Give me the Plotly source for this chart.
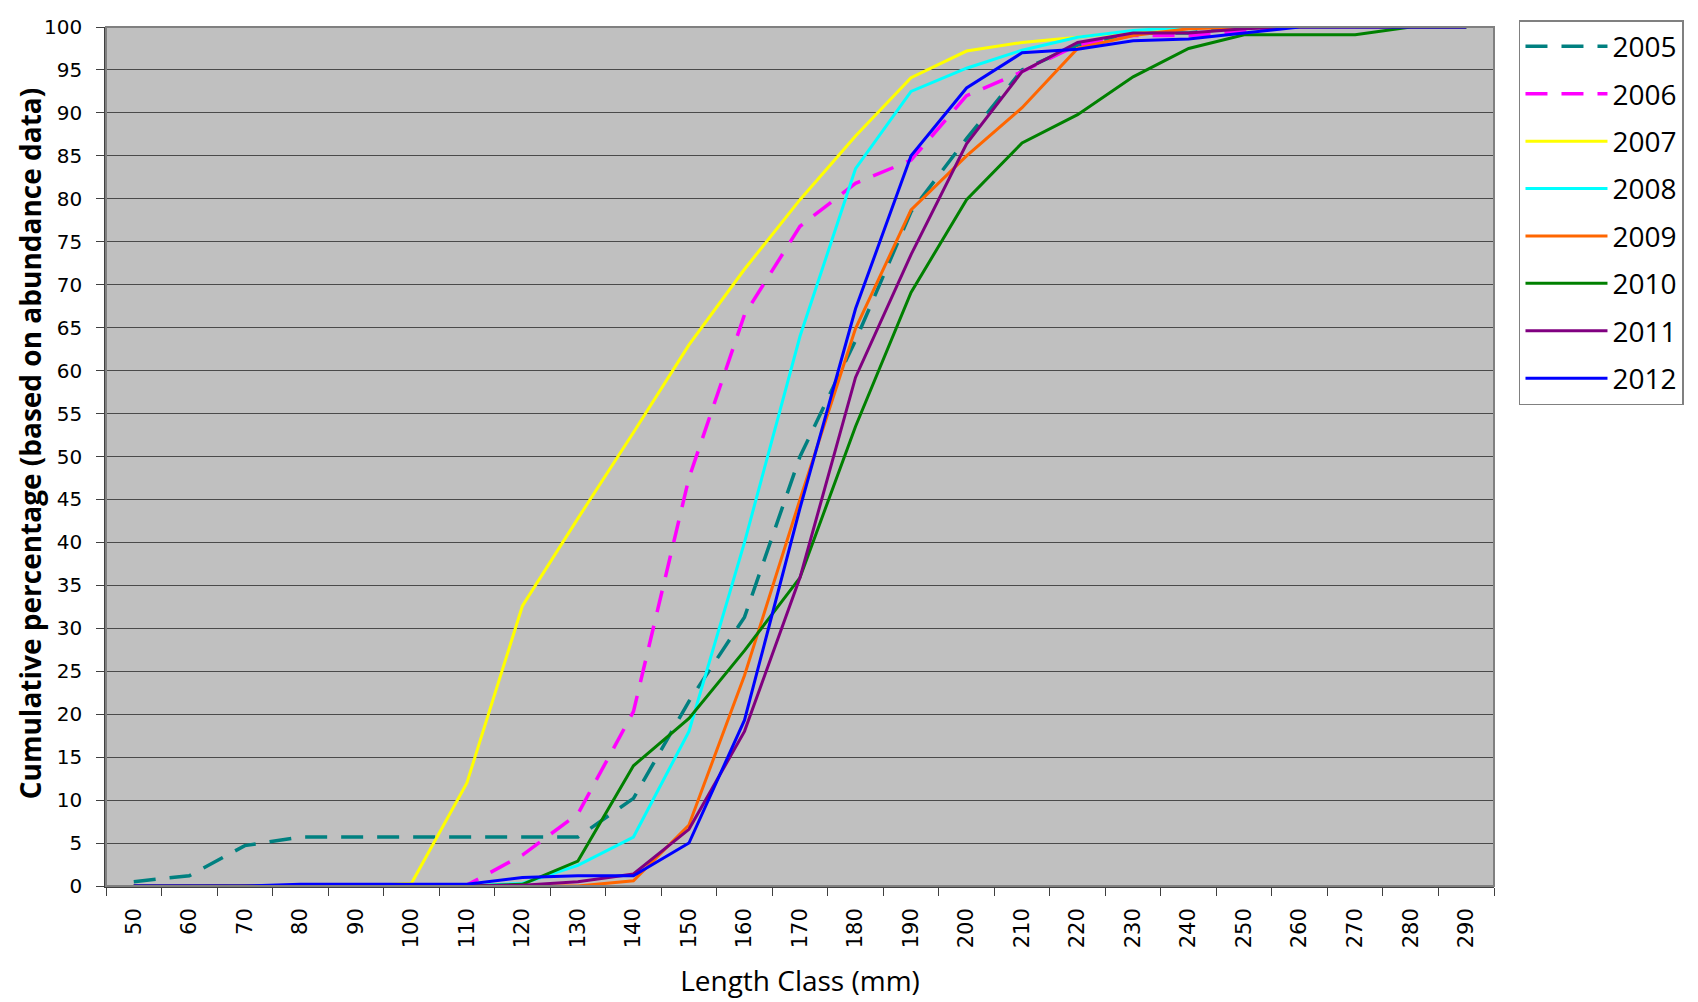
import plotly.graph_objects as go

length_class = [str(v) for v in range(50, 300, 10)]

y2005 = [0.5, 1.2, 4.7, 5.7, 5.7, 5.7, 5.7, 5.7, 5.7, 10.2, 21.5, 31.3, 50, 63.5, 78.5, 87, 95, 97.9, 99.3, 99.3, 100, 100, 100, 100, 100]
y2006 = [0, 0, 0, 0, 0, 0, 0.1, 3.6, 8.4, 20.3, 47.5, 66.5, 76.8, 81.8, 84.5, 92, 94.8, 97.9, 99, 99, 99.5, 100, 100, 100, 100]
y2007 = [0, 0, 0, 0, 0, 0.3, 12, 32.6, 42.8, 52.8, 63, 71.8, 79.9, 87.3, 94.1, 97.2, 98.2, 98.8, 99.5, 100, 100, 100, 100, 100, 100]
y2008 = [0, 0, 0, 0, 0, 0, 0, 0.3, 2.4, 5.7, 18, 40, 64, 83.5, 92.5, 95.2, 97.3, 98.8, 99.6, 100, 100, 100, 100, 100, 100]
y2009 = [0, 0, 0, 0, 0, 0, 0, 0, 0, 0.6, 7.1, 24.5, 45, 64.9, 78.7, 85, 90.6, 97.5, 99, 99.8, 100, 100, 100, 100, 100]
y2010 = [0, 0, 0, 0, 0, 0, 0, 0.2, 2.9, 14, 19.5, 27.4, 35.9, 53.5, 69.1, 79.9, 86.5, 89.8, 94.2, 97.5, 99.1, 99.1, 99.1, 100, 100]
y2011 = [0, 0, 0, 0, 0, 0, 0, 0.1, 0.5, 1.4, 6.6, 18, 35.9, 59.2, 73.5, 86.4, 94.8, 98.2, 99.3, 99.3, 99.8, 100, 100, 100, 100]
y2012 = [0, 0, 0, 0.2, 0.2, 0.2, 0.2, 1.0, 1.2, 1.2, 5, 19.3, 44, 67.2, 85, 92.9, 97, 97.4, 98.4, 98.6, 99.3, 100, 100, 100, 100]

series_names = ["2005", "2006", "2007", "2008", "2009", "2010", "2011", "2012"]
series_values = [y2005, y2006, y2007, y2008, y2009, y2010, y2011, y2012]
series_colors = ["#008080", "#FF00FF", "#FFFF00", "#00FFFF", "#FF6600", "#008000", "#800080", "#0000FF"]
series_dash = ["22px,14px", "22px,14px", "solid", "solid", "solid", "solid", "solid", "solid"]
y_ticks = list(range(0, 101, 5))

fig = go.Figure()
for name, vals, col, dash in zip(series_names, series_values, series_colors, series_dash):
    fig.add_trace(go.Scatter(
        x=length_class, y=vals, name=name, mode="lines",
        legendgroup=name,
        line=dict(color=col, width=3.5 if dash != "solid" else 3, dash=dash),
    ))

fig.update_layout(
    width=1690, height=994,
    margin=dict(l=98, r=204, t=14, b=116),
    paper_bgcolor="white",
    plot_bgcolor="#C0C0C0",
    showlegend=True,
    legend=dict(
        x=1.018, y=1.008, xanchor="left", yanchor="top",
        bgcolor="white", bordercolor="#808080", borderwidth=1.5,
        font=dict(family="Open Sans", size=28, color="black"),
        tracegroupgap=8,
        traceorder="grouped",
        itemwidth=82,
    ),
    xaxis=dict(
        type="category",
        range=[-0.5, len(length_class) - 0.5],
        automargin=False,
        tickson="boundaries",
        ticks="outside", ticklen=8, tickcolor="#404040",
        tickangle=-90,
        ticklabelstandoff=12,
        tickfont=dict(family="DejaVu Sans", size=21, color="black"),
        showline=True, linecolor="#404040", linewidth=1.5,
        showgrid=False,
        title=dict(text="Length Class (mm)", font=dict(family="Open Sans", size=28, color="black"), standoff=24),
    ),
    yaxis=dict(
        range=[0, 100],
        automargin=False,
        tickvals=y_ticks,
        ticks="outside", ticklen=8, tickcolor="#404040",
        ticklabelstandoff=10,
        ticklabeloverflow="allow",
        tickfont=dict(family="DejaVu Sans", size=20, color="black"),
        showline=True, linecolor="#404040", linewidth=1.5,
        showgrid=True, gridcolor="#4A4A4A", gridwidth=1.2,
        zeroline=False,
    ),
    annotations=[dict(
        text="<b>Cumulative percentage (based on abundance data)</b>",
        xref="paper", yref="paper", x=-0.055, y=0.515,
        xanchor="center", yanchor="middle", textangle=-90, showarrow=False,
        font=dict(family="Open Sans", size=28, color="black"),
    )],
    shapes=[dict(type="rect", xref="paper", yref="paper", x0=0, x1=1, y0=0, y1=1,
                 line=dict(color="#808080", width=2), fillcolor="rgba(0,0,0,0)", layer="above")],
)

fig.write_html("out.html")
